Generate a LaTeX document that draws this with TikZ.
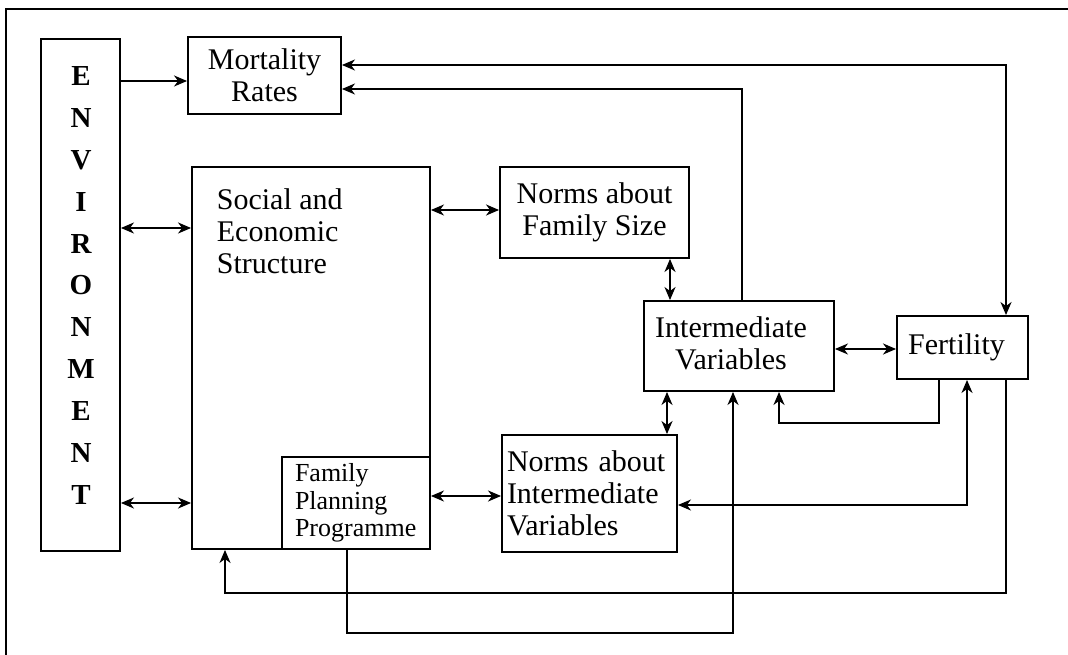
\documentclass[tikz,border=0pt]{standalone}
\usepackage{fontspec}
\setmainfont{Liberation Serif}
\usetikzlibrary{arrows.meta}
\begin{document}
\begin{tikzpicture}[x=1pt,y=-1pt,
  box/.style={draw,line width=1.9pt,inner sep=0pt,font=\fontsize{30}{32}\selectfont},
  conn/.style={line width=1.8pt},
  oneway/.style={conn,-{Stealth[length=13pt,width=11pt,inset=4pt]}},
  twoway/.style={conn,{Stealth[length=13pt,width=11pt,inset=4pt]}-{Stealth[length=13pt,width=11pt,inset=4pt]}},
  frame/.style={line width=1.2pt}
]
\useasboundingbox (0,0) rectangle (1068,655);
\draw[frame] (1068,9) -- (6,9) -- (6,655);

% boxes
\node[box,minimum width=79pt,minimum height=512pt] (env) at (80.5,295) {};
\node[inner sep=0pt,align=center,font=\fontsize{29}{41.9}\selectfont\bfseries] (envtext) at (81,285.5)
  {E\\N\\V\\I\\R\\O\\N\\M\\E\\N\\T};
\node[box,minimum width=153pt,minimum height=77pt,align=center] (mort) at (264.5,75.5) {Mortality\\Rates};
\node[box,minimum width=238pt,minimum height=382pt] (ses) at (311,358) {};
\node[inner sep=0pt,anchor=north west,align=left,font=\fontsize{30}{32}\selectfont] (sestext) at (216.7,188.5)
  {Social and\\Economic\\Structure};
\node[box,minimum width=148pt,minimum height=92pt,text width=122pt,inner xsep=13pt,align=left,
  font=\fontsize{26}{27.5}\selectfont] (fpp) at (356,503) {Family\\Planning\\Programme};
\node[box,minimum width=189pt,minimum height=91pt,align=center] (nfs) at (594.5,212.5) {Norms about\\Family Size};
\node[box,minimum width=190pt,minimum height=90pt,align=center,text depth=6pt] (int) at (739,346)
  {\hspace*{-16pt}Intermediate\\\hspace*{-16pt}Variables};
\node[box,minimum width=131pt,minimum height=63pt] (fert) at (962.5,347.5) {\hspace*{-12pt}Fertility};
\node[box,minimum width=175pt,minimum height=117pt,text width=165pt,inner xsep=5pt,align=left] (niv) at (589.5,493.5)
  {Norms about\\Intermediate\\Variables};

% connectors
\draw[oneway] (env.east |- 0,81) -- (mort.west |- 0,81);
\draw[twoway] (env.east |- 0,228) -- (ses.west |- 0,228);
\draw[twoway] (env.east |- 0,503) -- (ses.west |- 0,503);
\draw[twoway] (ses.east |- 0,210) -- (nfs.west |- 0,210);
\draw[twoway] (nfs.south -| 670,0) -- (int.north -| 670,0);
\draw[twoway] (int.south -| 667,0) -- (niv.north -| 667,0);
\draw[twoway] (fpp.east |- 0,496) -- (niv.west |- 0,496);
\draw[twoway] (int.east |- 0,349) -- (fert.west |- 0,349);
\draw[twoway] (mort.east |- 0,65) -| (fert.north -| 1006,0);
\draw[oneway] (int.north -| 742,0) |- (mort.east |- 0,89);
\draw[oneway] (fert.south -| 939,0) -- (939,423) -| (int.south -| 779,0);
\draw[twoway] (niv.east |- 0,505) -| (fert.south -| 967,0);
\draw[oneway] (fert.south -| 1006,0) -- (1006,593) -| (ses.south -| 225,0);
\draw[oneway] (fpp.south -| 347,0) -- (347,633) -| (int.south -| 733,0);
\end{tikzpicture}
\end{document}
